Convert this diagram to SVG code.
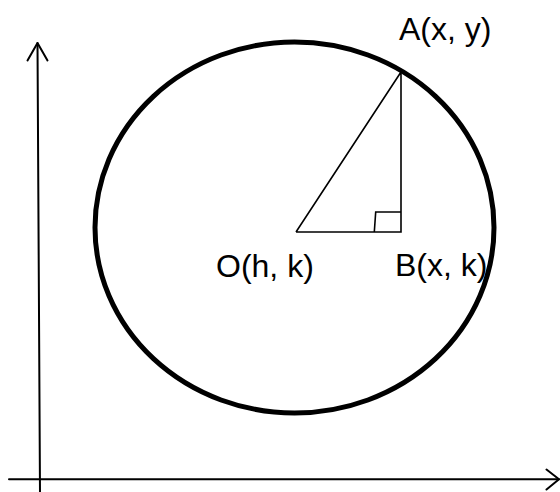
<svg xmlns="http://www.w3.org/2000/svg" width="560" height="492" viewBox="0 0 560 492">
<style>
.ax{stroke:#000;stroke-width:2;fill:none;stroke-linecap:round;stroke-linejoin:round}
.thin{stroke:#000;stroke-width:1.6;fill:none;stroke-linejoin:miter}
.circ{stroke:#000;stroke-width:5;fill:none}
.lbl{font-family:"Liberation Sans",Arial,sans-serif;font-size:32px;fill:#000}
</style>
<rect width="560" height="492" fill="#fff"/>
<g id="connectors">
<line class="ax" x1="37.5" y1="43" x2="40" y2="492"/>
<polyline class="ax" points="27.5,60.5 37.5,43 47.5,60.5"/>
<line class="ax" x1="9" y1="479.3" x2="559" y2="479.3"/>
<polyline class="ax" points="546.5,469.5 559,479.3 546.5,489.5"/>
</g>
<g id="circle">
<ellipse class="circ" cx="294.5" cy="227.5" rx="199.5" ry="185.5"/>
</g>
<g id="triangle">
<polyline class="thin" points="296,232 401,72 401,232 296,232"/>
<polyline class="thin" points="374.3,232 375.7,212 401,212"/>
</g>
<g id="A"><text class="lbl" x="399" y="40">A(x, y)</text></g>
<g id="O"><text class="lbl" x="216" y="277">O(h, k)</text></g>
<g id="B"><text class="lbl" x="395" y="276">B(x, k)</text></g>
</svg>
